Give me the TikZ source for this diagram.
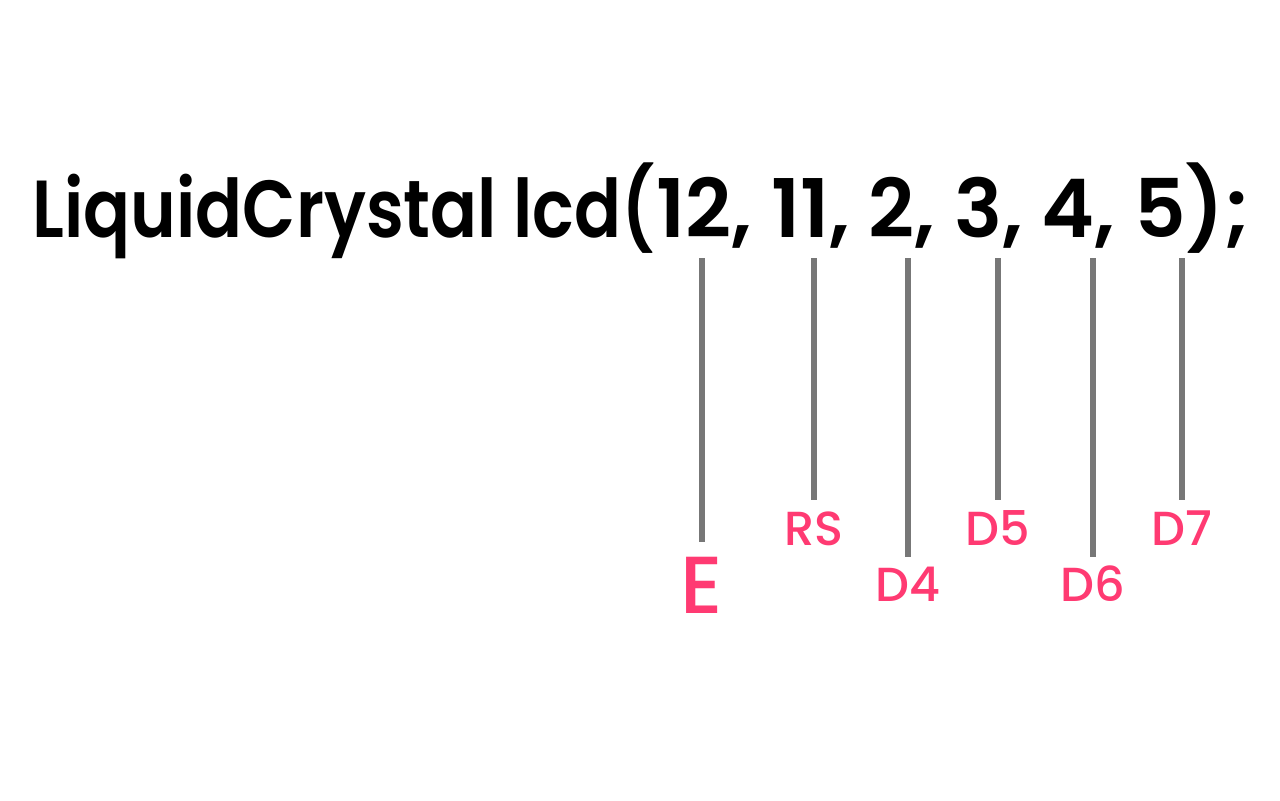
\documentclass[tikz,border=0pt]{standalone}
\usepackage{fontspec}
\setmainfont{Poppins}[UprightFont=*-Medium]
\newfontfamily\titlefont{Poppins}[UprightFont=*-SemiBold]
\definecolor{pinklbl}{HTML}{FF3A72}
\definecolor{linegray}{HTML}{777777}
\begin{document}
\begin{tikzpicture}[x=0.01cm,y=-0.01cm]
\tikzset{
  pin/.style={draw=linegray,line width=6*0.01cm},
  lbl/.style={text=pinklbl,font=\fontsize{13.6pt}{16pt}\selectfont,anchor=base,inner sep=0pt},
  biglbl/.style={text=pinklbl,font=\fontsize{23pt}{26pt}\selectfont,anchor=base,inner sep=0pt},
  title/.style={font=\titlefont\fontsize{23pt}{28pt}\selectfont,anchor=base west,inner sep=0pt}
}
\useasboundingbox (0,0) rectangle (1280,800);
\node[title] (code) at (32,237) {\resizebox{6.22cm}{\height}{LiquidCrystal lcd(}};
\node[title] (args) at (code.base east) {\resizebox{5.94cm}{\height}{12, 11, 2, 3, 4, 5);}};
\foreach \n/\x/\y in {1/702/542, 2/814/500, 3/908/557, 4/998/500, 5/1093/557, 6/1182/500}{
  \coordinate (t\n) at (\x,258);
  \coordinate (b\n) at (\x,\y);
  \draw[pin] (t\n) -- (b\n);
}
\node[biglbl] (E) at (702,613) {E};
\node[lbl] (RS) at (814,545) {RS};
\node[lbl] (D4) at (908,601) {D4};
\node[lbl] (D5) at (998,545) {D5};
\node[lbl] (D6) at (1093,601) {D6};
\node[lbl] (D7) at (1182,545) {D7};
\end{tikzpicture}
\end{document}
